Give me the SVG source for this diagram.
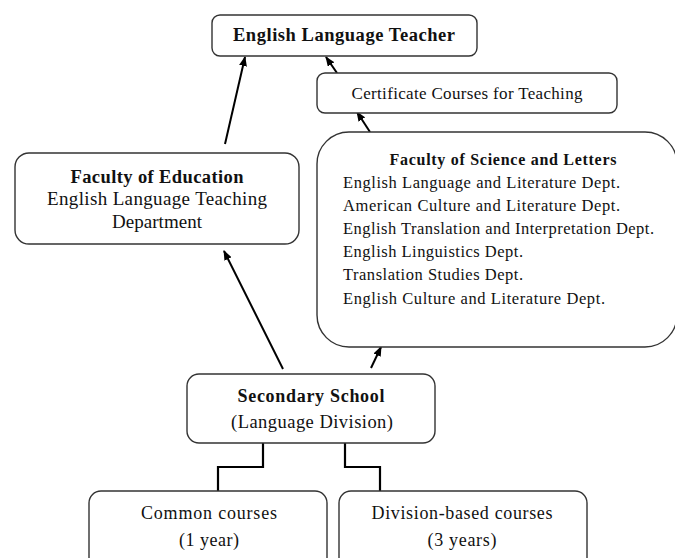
<svg xmlns="http://www.w3.org/2000/svg" width="675" height="558" viewBox="0 0 675 558">
<defs>
<style>
.box{fill:#fff;stroke:#333;stroke-width:1.4}
.t{font-family:"Liberation Serif","Times New Roman",serif;fill:#111}
.b{font-weight:bold}
.c{text-anchor:middle}
.arr{stroke:#000;stroke-width:2;fill:none;marker-end:url(#ah)}
.elb{stroke:#000;stroke-width:2.2;fill:none}
</style>
<marker id="ah" markerUnits="userSpaceOnUse" markerWidth="10" markerHeight="8" refX="9" refY="4" orient="auto">
<path d="M0,0 L10,4 L0,8 Z" fill="#000"/>
</marker>
</defs>
<rect width="675" height="558" fill="#fff"/>
<g id="connectors">
<line class="arr" x1="225" y1="144" x2="245" y2="57"/>
<line class="arr" x1="337" y1="73" x2="326" y2="57"/>
<line class="arr" x1="370" y1="132" x2="357" y2="112"/>
<line class="arr" x1="283" y1="369" x2="224" y2="251"/>
<line class="arr" x1="371" y1="368" x2="381" y2="347"/>
<polyline class="elb" points="263,443 263,467 218,467 218,491"/>
<polyline class="elb" points="345,443 345,467 380,467 380,491"/>
</g>
<g id="teacher">
<rect class="box" x="212" y="15" width="265" height="41" rx="8"/>
<text class="t b c" x="344" y="41" font-size="18.5" textLength="222">English Language Teacher</text>
</g>
<g id="certificate">
<rect class="box" x="317" y="73" width="300" height="40" rx="8"/>
<text class="t c" x="467" y="99" font-size="17" textLength="231">Certificate Courses for Teaching</text>
</g>
<g id="education">
<rect class="box" x="15" y="153" width="284" height="91" rx="14"/>
<text class="t b c" x="157" y="183" font-size="18.5" textLength="173">Faculty of Education</text>
<text class="t c" x="157" y="205" font-size="19" textLength="220">English Language Teaching</text>
<text class="t c" x="157" y="228" font-size="19" textLength="90">Department</text>
</g>
<g id="science">
<rect class="box" x="317" y="132" width="360" height="215" rx="32"/>
<text class="t b c" x="503" y="165" font-size="16" textLength="227">Faculty of Science and Letters</text>
<text class="t" x="343" y="188" font-size="16.5" textLength="277">English Language and Literature Dept.</text>
<text class="t" x="343" y="211" font-size="16.5" textLength="277">American Culture and Literature Dept.</text>
<text class="t" x="343" y="234" font-size="16.5" textLength="311">English Translation and Interpretation Dept.</text>
<text class="t" x="343" y="257" font-size="16.5" textLength="180">English Linguistics Dept.</text>
<text class="t" x="343" y="280" font-size="16.5" textLength="180">Translation Studies Dept.</text>
<text class="t" x="343" y="304" font-size="16.5" textLength="262">English Culture and Literature Dept.</text>
</g>
<g id="secondary">
<rect class="box" x="187" y="374" width="248" height="69" rx="12"/>
<text class="t b c" x="311" y="402" font-size="18" textLength="147">Secondary School</text>
<text class="t c" x="312" y="428" font-size="18.5" textLength="162">(Language Division)</text>
</g>
<g id="common">
<rect class="box" x="89" y="491" width="238" height="90" rx="12"/>
<text class="t c" x="209" y="519" font-size="18" textLength="136">Common courses</text>
<text class="t c" x="209" y="546" font-size="18" textLength="60">(1 year)</text>
</g>
<g id="division">
<rect class="box" x="339" y="491" width="248" height="90" rx="12"/>
<text class="t c" x="462" y="519" font-size="18" textLength="181">Division-based courses</text>
<text class="t c" x="462" y="546" font-size="18" textLength="69">(3 years)</text>
</g>
</svg>
